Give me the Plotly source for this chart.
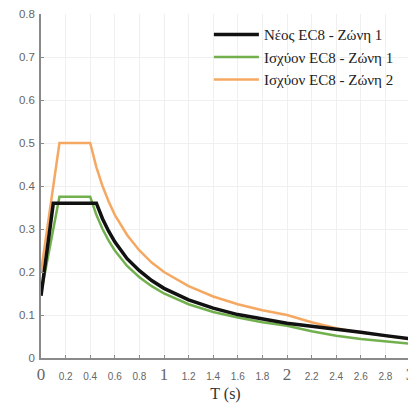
import plotly.graph_objects as go

# Data
T_black = [0, 0.1, 0.45, 0.5, 0.55, 0.6, 0.7, 0.8, 0.9, 1.0, 1.2, 1.4, 1.6, 1.8, 2.0, 2.2, 2.5, 2.6, 2.8, 3.0]
S_black = [0.145, 0.36, 0.36, 0.324, 0.295, 0.27, 0.231, 0.203, 0.18, 0.162, 0.135, 0.116, 0.101, 0.09, 0.081, 0.074, 0.065, 0.06, 0.052, 0.045]

T_ec8 = [0, 0.15, 0.4, 0.45, 0.5, 0.55, 0.6, 0.7, 0.8, 0.9, 1.0, 1.2, 1.4, 1.6, 1.8, 2.0, 2.2, 2.4, 2.6, 2.8, 3.0]
S_green = [0.15, 0.375, 0.375, 0.333, 0.3, 0.273, 0.25, 0.214, 0.188, 0.167, 0.15, 0.125, 0.107, 0.094, 0.083, 0.075, 0.062, 0.052, 0.044, 0.038, 0.033]
S_orange = [0.2, 0.5, 0.5, 0.444, 0.4, 0.364, 0.333, 0.286, 0.25, 0.222, 0.2, 0.167, 0.143, 0.125, 0.111, 0.1, 0.083, 0.069, 0.059, 0.051, 0.044]

names = ["Νέος EC8 - Ζώνη 1", "Ισχύον EC8 - Ζώνη 1", "Ισχύον EC8 - Ζώνη 2"]

x_tickvals = [0, 0.2, 0.4, 0.6, 0.8, 1, 1.2, 1.4, 1.6, 1.8, 2, 2.2, 2.4, 2.6, 2.8, 3]
x_ticklabels = ["0", "0.2", "0.4", "0.6", "0.8", "1", "1.2", "1.4", "1.6", "1.8", "2", "2.2", "2.4", "2.6", "2.8", "3"]
y_tickvals = [0, 0.1, 0.2, 0.3, 0.4, 0.5, 0.6, 0.7, 0.8]
y_ticklabels = ["0", "0.1", "0.2", "0.3", "0.4", "0.5", "0.6", "0.7", "0.8"]

def fmt_x(lbl):
    if "." in lbl:
        return "<span style='font-size:10px'>" + lbl + "</span>"
    return "<span style='font-size:17px;font-family:Liberation Serif'>" + lbl + "</span>"

fig = go.Figure()
fig.add_trace(go.Scatter(x=T_ec8, y=S_orange, mode="lines", name=names[2],
                         line=dict(color="#f5a862", width=2.5)))
fig.add_trace(go.Scatter(x=T_ec8, y=S_green, mode="lines", name=names[1],
                         line=dict(color="#72b04e", width=2.5)))
fig.add_trace(go.Scatter(x=T_black, y=S_black, mode="lines", name=names[0],
                         line=dict(color="#111111", width=3.5)))

fig.update_layout(
    width=408, height=395,
    margin=dict(l=33, r=6, t=6, b=45),
    paper_bgcolor="white", plot_bgcolor="white",
    showlegend=True,
    legend=dict(x=0.455, y=0.988, xanchor="left", yanchor="top",
                traceorder="reversed", itemwidth=45,
                font=dict(family="Liberation Serif", size=15, color="#222"),
                bgcolor="rgba(255,255,255,0)", tracegroupgap=0),
    font=dict(family="Liberation Sans", color="#666"),
)
fig.update_xaxes(
    range=[0, 3], tickmode="array", tickvals=x_tickvals,
    ticktext=[fmt_x(t) for t in x_ticklabels],
    automargin=False, ticklabeloverflow="allow", ticklabelstandoff=6,
    showline=True, linecolor="#8a8a8a", linewidth=1.5,
    ticks="inside", ticklen=3, tickcolor="#8a8a8a",
    showgrid=True, gridcolor="#f0f0f0", gridwidth=1,
    zeroline=False,
    title=dict(text="T (s)", font=dict(family="Liberation Serif", size=16, color="#333"), standoff=10),
)
fig.update_yaxes(
    range=[0, 0.8], tickmode="array", tickvals=y_tickvals, ticktext=y_ticklabels,
    tickfont=dict(size=11.5, color="#666"),
    automargin=False, ticklabelstandoff=2,
    showline=True, linecolor="#8a8a8a", linewidth=1.5,
    ticks="inside", ticklen=3, tickcolor="#8a8a8a",
    showgrid=True, gridcolor="#f0f0f0", gridwidth=1,
    zeroline=False,
)
fig.write_html("out.html")
